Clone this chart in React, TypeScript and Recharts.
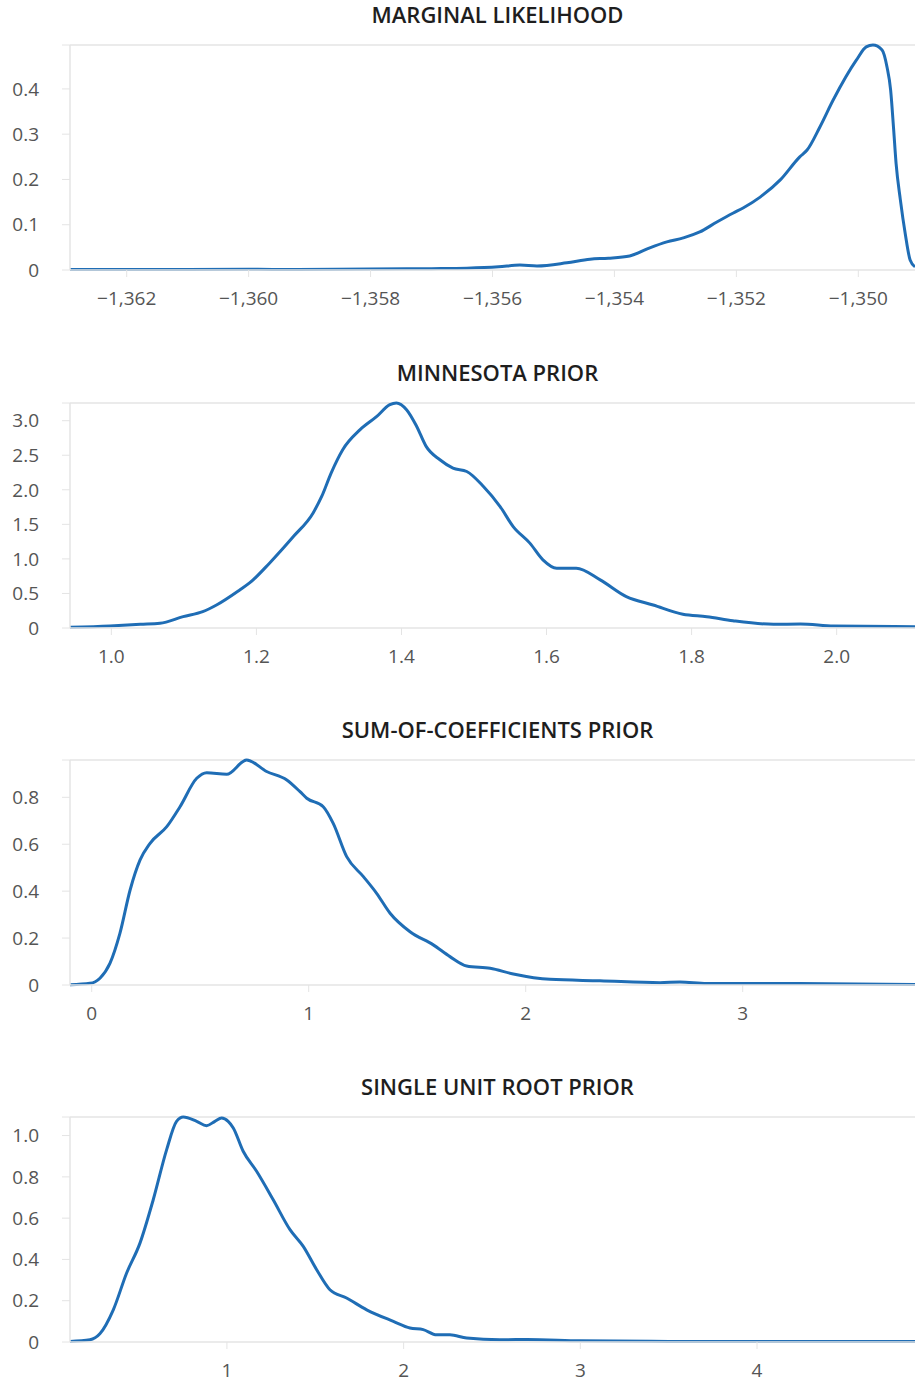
import React from 'react';
import { LineChart, Line, XAxis, YAxis, ReferenceLine } from 'recharts';

// ---------- Data ----------
const titles = ['MARGINAL LIKELIHOOD', 'MINNESOTA PRIOR', 'SUM-OF-COEFFICIENTS PRIOR', 'SINGLE UNIT ROOT PRIOR'];

const mlX = [-1362.93, -1362.0, -1361.0, -1360.0, -1359.2, -1358.0, -1357.0, -1356.42, -1355.9, -1355.55, -1355.27, -1354.78, -1354.4, -1354.1, -1353.75, -1353.42, -1353.14, -1352.87, -1352.6, -1352.32, -1352.05, -1351.89, -1351.61, -1351.28, -1350.96, -1350.84, -1350.63, -1350.41, -1350.03, -1349.87, -1349.76, -1349.61, -1349.53, -1349.47, -1349.42, -1349.38, -1349.31, -1349.23, -1349.15, -1349.07];
const mlY = [0.001, 0.001, 0.001, 0.0015, 0.001, 0.002, 0.003, 0.004, 0.007, 0.011, 0.009, 0.016, 0.024, 0.026, 0.031, 0.049, 0.062, 0.071, 0.084, 0.106, 0.126, 0.137, 0.161, 0.199, 0.25, 0.265, 0.316, 0.376, 0.464, 0.493, 0.497, 0.486, 0.449, 0.398, 0.31, 0.235, 0.155, 0.08, 0.022, 0.007];
const mlXTicks = [-1362, -1360, -1358, -1356, -1354, -1352, -1350];
const mlYTicks = [0, 0.1, 0.2, 0.3, 0.4];

const mnX = [0.943, 0.998, 1.04, 1.067, 1.099, 1.126, 1.145, 1.177, 1.191, 1.218, 1.251, 1.278, 1.29, 1.303, 1.319, 1.343, 1.366, 1.384, 1.393, 1.407, 1.421, 1.434, 1.453, 1.471, 1.49, 1.513, 1.536, 1.554, 1.577, 1.595, 1.614, 1.641, 1.674, 1.71, 1.747, 1.788, 1.821, 1.857, 1.913, 1.95, 1.996, 2.108];
const mnY = [0.01, 0.03, 0.054, 0.068, 0.164, 0.236, 0.333, 0.551, 0.656, 0.938, 1.323, 1.662, 1.903, 2.242, 2.58, 2.87, 3.062, 3.232, 3.256, 3.159, 2.917, 2.628, 2.435, 2.314, 2.265, 2.048, 1.758, 1.468, 1.228, 0.986, 0.865, 0.865, 0.696, 0.454, 0.333, 0.198, 0.164, 0.106, 0.054, 0.058, 0.029, 0.019];
const mnXTicks = [1.0, 1.2, 1.4, 1.6, 1.8, 2.0];
const mnYTicks = [0, 0.5, 1.0, 1.5, 2.0, 2.5, 3.0];

const scX = [-0.1, -0.008, 0.038, 0.084, 0.13, 0.177, 0.223, 0.269, 0.346, 0.407, 0.484, 0.53, 0.622, 0.714, 0.806, 0.899, 0.96, 0.991, 1.067, 1.113, 1.175, 1.252, 1.313, 1.375, 1.467, 1.574, 1.651, 1.728, 1.836, 1.943, 2.112, 2.342, 2.619, 2.711, 2.834, 3.264, 3.794];
const scY = [0.001, 0.007, 0.029, 0.092, 0.22, 0.405, 0.533, 0.604, 0.675, 0.76, 0.881, 0.905, 0.898, 0.959, 0.91, 0.874, 0.824, 0.796, 0.76, 0.689, 0.547, 0.462, 0.391, 0.306, 0.227, 0.171, 0.121, 0.081, 0.071, 0.047, 0.024, 0.018, 0.01, 0.013, 0.006, 0.006, 0.002];
const scXTicks = [0, 1, 2, 3];
const scYTicks = [0, 0.2, 0.4, 0.6, 0.8];

const urX = [0.112, 0.225, 0.281, 0.357, 0.432, 0.508, 0.583, 0.659, 0.715, 0.753, 0.829, 0.885, 0.932, 0.97, 1.007, 1.036, 1.092, 1.168, 1.262, 1.357, 1.432, 1.508, 1.583, 1.677, 1.791, 1.942, 2.036, 2.111, 2.187, 2.262, 2.357, 2.545, 2.7, 3.0, 3.5, 4.0, 4.894];
const urY = [0.003, 0.011, 0.04, 0.156, 0.333, 0.479, 0.689, 0.932, 1.069, 1.09, 1.069, 1.048, 1.069, 1.085, 1.069, 1.037, 0.924, 0.827, 0.689, 0.544, 0.463, 0.35, 0.253, 0.213, 0.156, 0.1, 0.068, 0.06, 0.035, 0.035, 0.019, 0.011, 0.012, 0.006, 0.003, 0.003, 0.002];
const urXTicks = [1, 2, 3, 4];
const urYTicks = [0, 0.2, 0.4, 0.6, 0.8, 1.0];

// ---------- Styles ----------
const FONT = '"Open Sans", "Noto Sans", sans-serif';
const LINE = '#1f6db5';
const GRID = '#e4e4e4';
const TICK = '#555555';
const PANEL_TOPS = [0, 358, 715, 1072];

const fmtComma = (v: number) => Math.round(v).toLocaleString('en-US').replace('-', '\u2212');
const fmt1 = (v: number) => v.toFixed(1);
const fmt0 = (v: number) => String(Math.round(v));

type PanelProps = {
  title: string;
  xs: number[];
  ys: number[];
  xTicks: number[];
  yTicks: number[];
  xFormat: (v: number) => string;
  top: number;
};

function Panel({ title, xs, ys, xTicks, yTicks, xFormat, top }: PanelProps) {
  const data = xs.map((x, i) => ({ x, y: ys[i] }));
  const yMax = Math.max(...ys);
  const yTickAll = [...yTicks, yMax];
  const yFormat = (v: number) => (v === yMax ? '' : v === 0 ? '0' : v.toFixed(1));
  return (
    <div style={{ position: 'absolute', left: 0, top, width: 915, height: 330 }}>
      <div
        style={{
          position: 'absolute',
          left: 80,
          width: 835,
          top: 0,
          height: 28,
          lineHeight: '28px',
          textAlign: 'center',
          fontFamily: FONT,
          fontWeight: 600,
          fontSize: 22,
          color: '#1e1e1e',
        }}
      >
        {title}
      </div>
      <LineChart
        width={915}
        height={330}
        data={data}
        margin={{ top: 45, right: 0, left: 0, bottom: 20 }}
        style={{ fontFamily: FONT }}
      >
        <XAxis
          type="number"
          dataKey="x"
          domain={['dataMin', 'dataMax']}
          ticks={xTicks}
          interval={0}
          tickFormatter={xFormat}
          height={40}
          tickSize={7}
          tickMargin={15}
          stroke={GRID}
          tick={{ fill: TICK, fontSize: 19, fontFamily: FONT }}
          tickLine={{ stroke: GRID }}
          axisLine={{ stroke: GRID, strokeWidth: 1.5 }}
        />
        <YAxis
          type="number"
          domain={[0, yMax]}
          ticks={yTickAll}
          interval={0}
          tickFormatter={yFormat}
          width={70}
          tickSize={8}
          tickMargin={23}
          tick={{ fill: TICK, fontSize: 19, fontFamily: FONT }}
          tickLine={{ stroke: GRID }}
          axisLine={{ stroke: GRID, strokeWidth: 1.5 }}
        />
        <ReferenceLine y={yMax} stroke={GRID} strokeWidth={1.5} />
        <Line
          type="monotone"
          dataKey="y"
          stroke={LINE}
          strokeWidth={3}
          dot={false}
          activeDot={false}
          isAnimationActive={false}
        />
      </LineChart>
    </div>
  );
}

export default function App() {
  return (
    <div style={{ position: 'absolute', left: 0, top: 0, width: 915, height: 1382, background: '#fff' }}>
      <Panel title={titles[0]} xs={mlX} ys={mlY} xTicks={mlXTicks} yTicks={mlYTicks} xFormat={fmtComma} top={PANEL_TOPS[0]} />
      <Panel title={titles[1]} xs={mnX} ys={mnY} xTicks={mnXTicks} yTicks={mnYTicks} xFormat={fmt1} top={PANEL_TOPS[1]} />
      <Panel title={titles[2]} xs={scX} ys={scY} xTicks={scXTicks} yTicks={scYTicks} xFormat={fmt0} top={PANEL_TOPS[2]} />
      <Panel title={titles[3]} xs={urX} ys={urY} xTicks={urXTicks} yTicks={urYTicks} xFormat={fmt0} top={PANEL_TOPS[3]} />
    </div>
  );
}
